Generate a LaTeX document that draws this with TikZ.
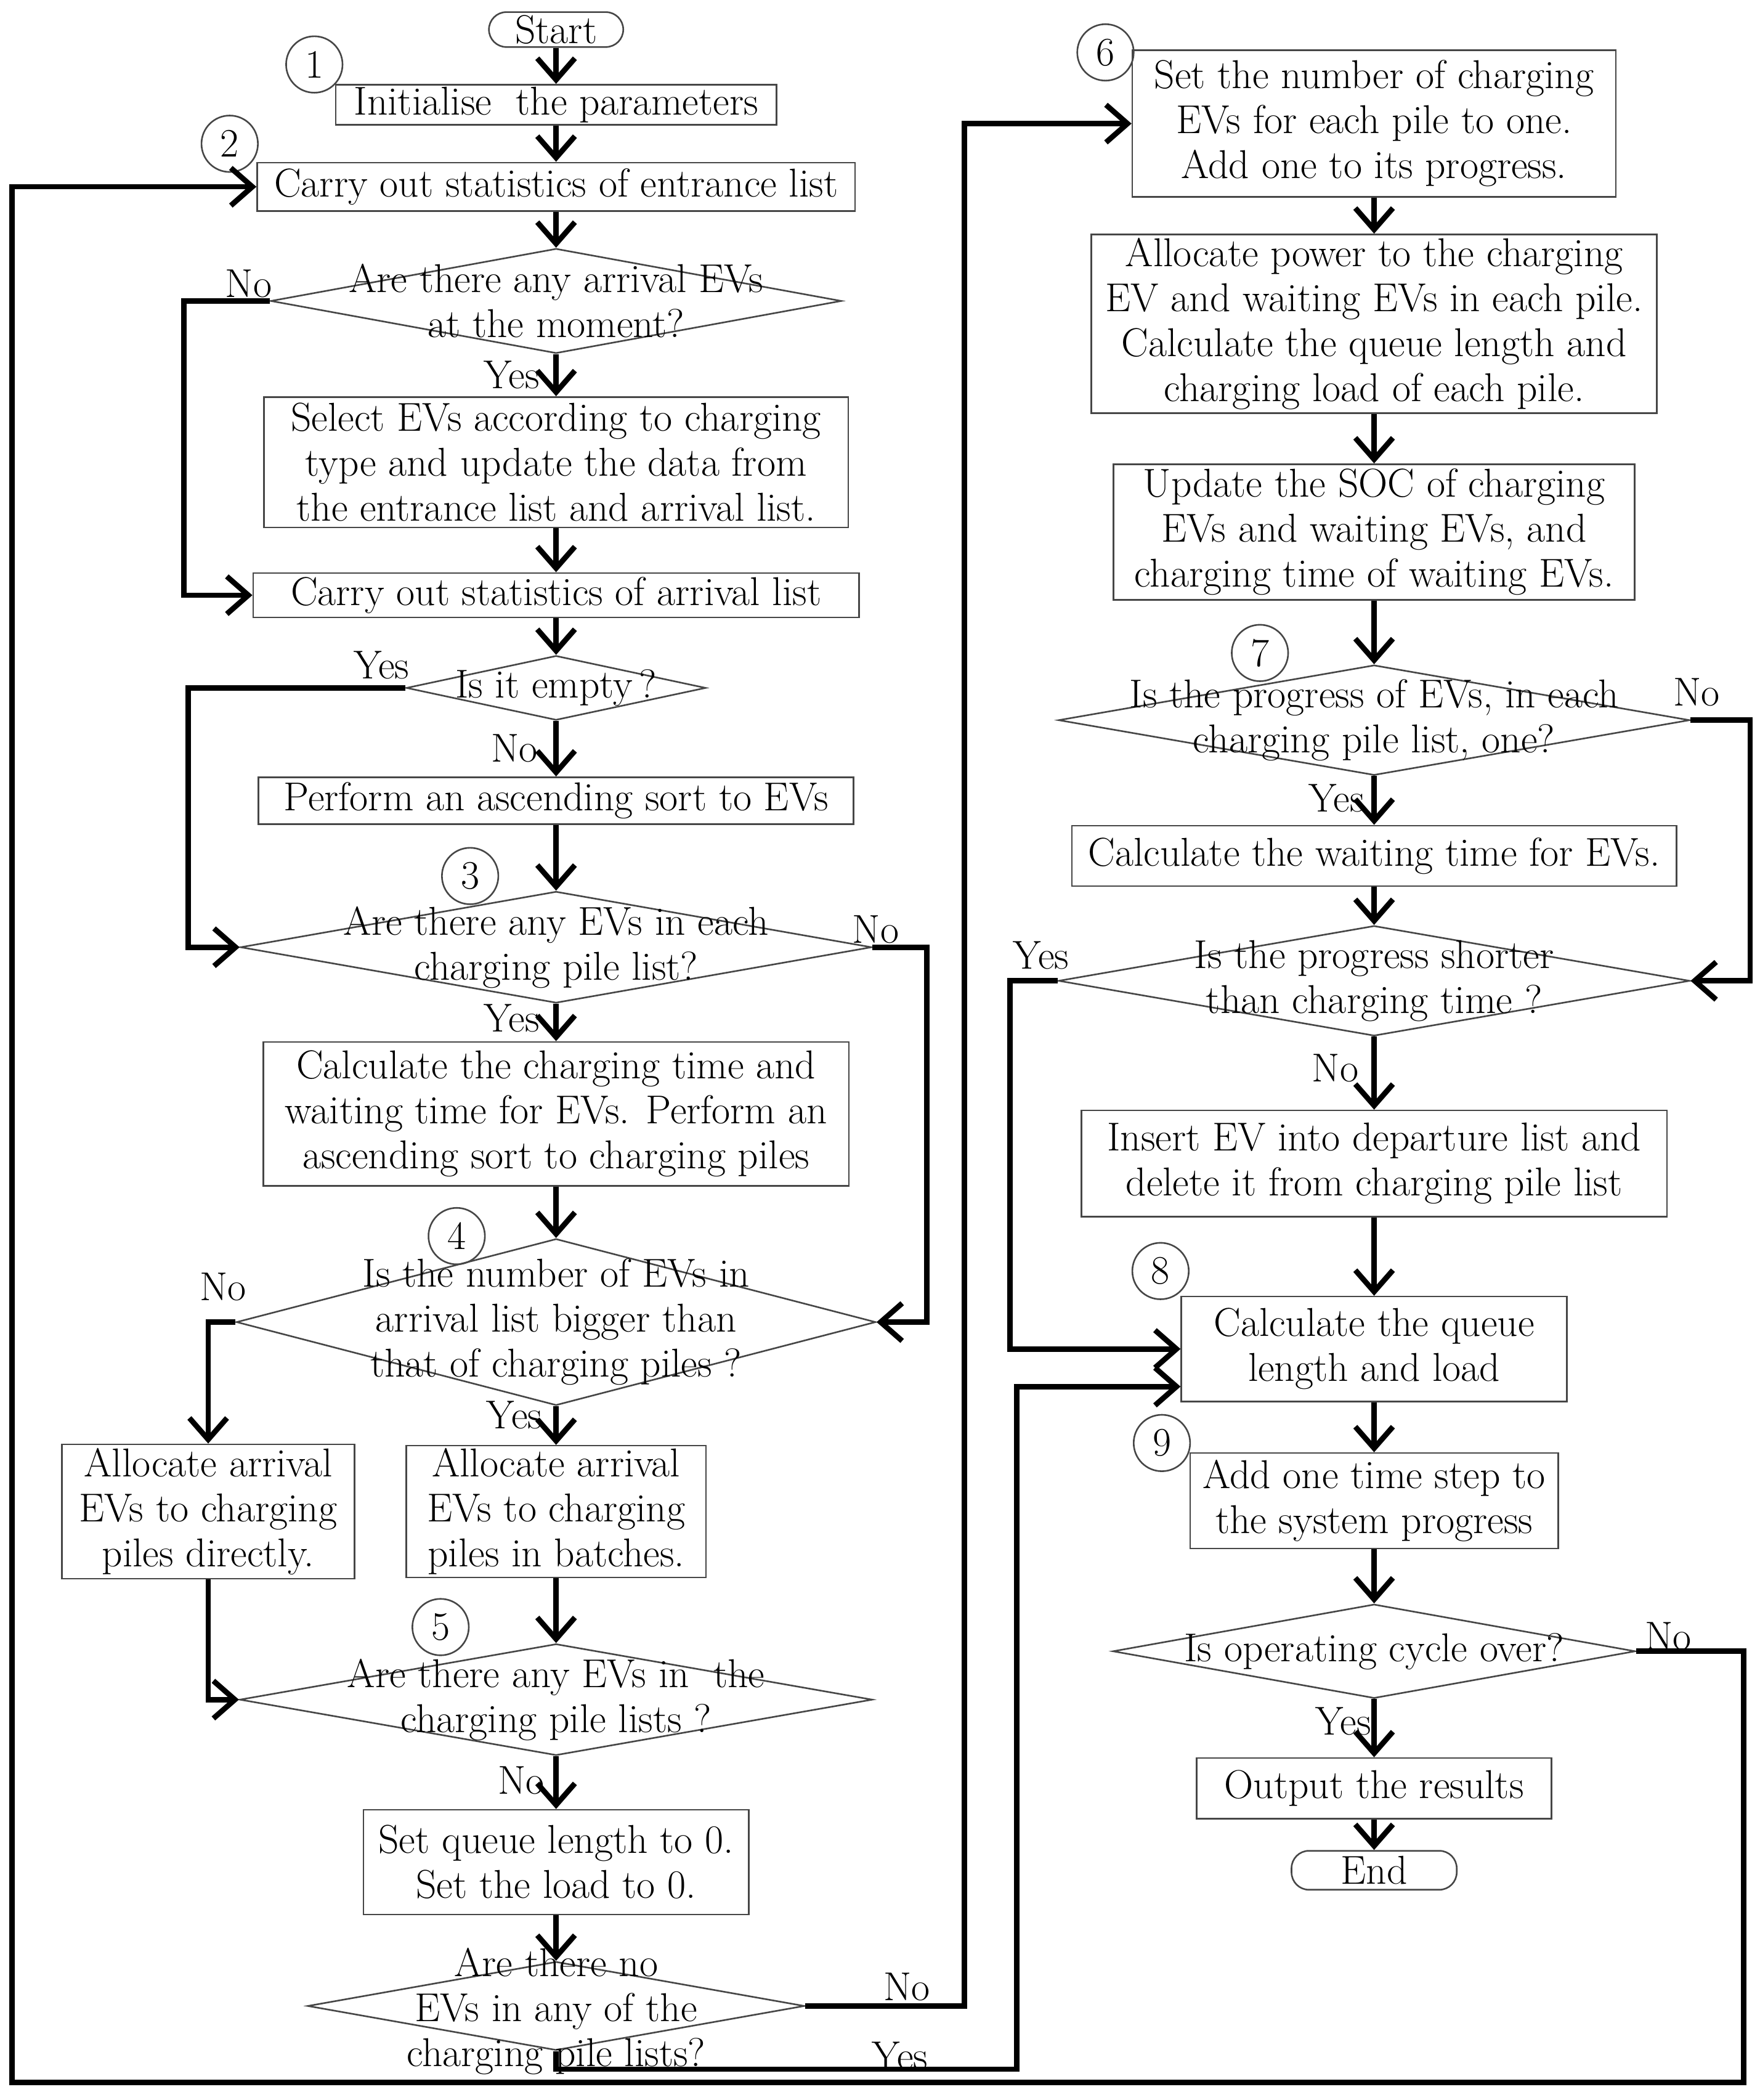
\documentclass[tikz,border=0pt]{standalone}
\usetikzlibrary{shapes.geometric,arrows.meta,calc}
\newcommand\fzx{\fontsize{30}{33.5}\selectfont}
\definecolor{bordergray}{RGB}{70,70,70}
\begin{document}
\begin{tikzpicture}[x=1pt,y=-1pt,
  box/.style={draw=bordergray, line width=1.2pt, rectangle, align=center, inner sep=0pt, font=\fzx},
  term/.style={box, rounded corners=13pt},
  dia/.style={draw=bordergray, line width=1.2pt, diamond, inner sep=0pt},
  dtxt/.style={align=center, inner sep=0pt, font=\fzx},
  num/.style={draw=bordergray, line width=1.2pt, circle, minimum size=42pt, inner sep=0pt, font=\fzx},
  lbl/.style={inner sep=0pt, font=\fzx},
  arr/.style={line width=4pt, -{Straight Barb[length=16pt,width=28pt]}}]
\useasboundingbox (0,0) rectangle (1310,1563);
% ---------- left column ----------
\node[term, minimum width=100pt, minimum height=26pt] (start) at (414,22) {Start};
\node[box, minimum width=328pt, minimum height=30pt] (init) at (414,78) {Initialise~ the parameters};
\node[box, minimum width=445pt, minimum height=36pt] (stat1) at (414,139) {Carry out statistics of entrance list};
\node[dia, minimum width=425pt, minimum height=78pt] (d1) at (414,224) {};
\node[dtxt] (d1t) at (d1.center) {Are there any arrival EVs\\at the moment?};
\node[box, minimum width=435pt, minimum height=97pt] (sel) at (414,344) {Select EVs according to charging\\type and update the data from\\the entrance list and arrival list.};
\node[box, minimum width=451pt, minimum height=33pt] (stat2) at (414,443) {Carry out statistics of arrival list};
\node[dia, minimum width=223pt, minimum height=48pt] (d2) at (414,512) {};
\node[dtxt] (d2t) at (d2.center) {Is it empty\,?};
\node[box, minimum width=443pt, minimum height=35pt] (sort) at (414,596) {Perform an ascending sort to EVs};
\node[dia, minimum width=470pt, minimum height=83pt] (d3) at (414,705) {};
\node[dtxt] (d3t) at (d3.center) {Are there any EVs in each\\charging pile list?};
\node[box, minimum width=436pt, minimum height=107pt] (calc) at (414,829) {Calculate the charging time and\\waiting time for EVs. Perform an\\ascending sort to charging piles};
\node[dia, minimum width=476pt, minimum height=124pt] (d4) at (414,984) {};
\node[dtxt] (d4t) at (d4.center) {Is the number of EVs in\\arrival list bigger than\\that of charging piles ?};
\node[box, minimum width=218pt, minimum height=100pt] (dd) at (155,1125) {Allocate arrival\\EVs to charging\\piles directly.};
\node[box, minimum width=223pt, minimum height=98pt] (bat) at (414,1125) {Allocate arrival\\EVs to charging\\piles in batches.};
\node[dia, minimum width=471pt, minimum height=83pt] (d5) at (414,1265) {};
\node[dtxt] (d5t) at (d5.center) {Are there any EVs in~ the\\charging pile lists ?};
\node[box, minimum width=287pt, minimum height=78pt] (setq) at (414,1386) {Set queue length to 0.\\Set the load to 0.};
\node[dia, minimum width=370pt, minimum height=66pt] (d6) at (414,1493) {};
\node[dtxt] (d6t) at (414,1497) {Are there no\\EVs in any of the\\charging pile lists?};
% ---------- right column ----------
\node[box, minimum width=360pt, minimum height=109pt] (b6) at (1023,92) {Set the number of charging\\EVs for each pile to one.\\Add one to its progress.};
\node[box, minimum width=421pt, minimum height=133pt] (b7) at (1023,241) {Allocate power to the charging\\EV and waiting EVs in each pile.\\Calculate the queue length and\\charging load of each pile.};
\node[box, minimum width=388pt, minimum height=101pt] (b8) at (1023,396) {Update the SOC of charging\\EVs and waiting EVs, and\\charging time of waiting EVs.};
\node[dia, minimum width=470pt, minimum height=82pt] (d7) at (1023,536) {};
\node[dtxt] (d7t) at (d7.center) {Is the progress of EVs, in each\\charging pile list, one?};
\node[box, minimum width=450pt, minimum height=45pt] (wt) at (1023,637) {Calculate the waiting time for EVs.};
\node[dia, minimum width=470pt, minimum height=82pt] (d8) at (1023,730) {};
\node[dtxt] (d8t) at (d8.center) {Is the progress shorter\\than charging time ?};
\node[box, minimum width=436pt, minimum height=79pt] (ins) at (1023,866) {Insert EV into departure list and\\delete it from charging pile list};
\node[box, minimum width=287pt, minimum height=78pt] (cq) at (1023,1004) {Calculate the queue\\length and load};
\node[box, minimum width=274pt, minimum height=71pt] (step) at (1023,1117) {Add one time step to\\the system progress};
\node[dia, minimum width=389pt, minimum height=70pt] (d9) at (1023,1229) {};
\node[dtxt] (d9t) at (d9.center) {Is operating cycle over?};
\node[box, minimum width=264pt, minimum height=45pt] (out) at (1023,1331) {Output the results};
\node[term, minimum width=123pt, minimum height=29pt] (end) at (1023,1392) {End};
% ---------- numbered circles ----------
\node[num] (c1) at (234,48) {1};
\node[num] (c2) at (171,107) {2};
\node[num] (c3) at (350,652) {3};
\node[num] (c4) at (340,920) {4};
\node[num] (c5) at (328,1211) {5};
\node[num] (c6) at (823,39) {6};
\node[num] (c7) at (938,486) {7};
\node[num] (c8) at (864,946) {8};
\node[num] (c9) at (865,1074) {9};
% ---------- labels ----------
\node[lbl] (l1n) at (185,211) {No};
\node[lbl] (l1y) at (381,279) {Yes};
\node[lbl] (l2y) at (284,495) {Yes};
\node[lbl] (l2n) at (383,557) {No};
\node[lbl] (l3n) at (652,692) {No};
\node[lbl] (l3y) at (381,758) {Yes};
\node[lbl] (l4n) at (166,958) {No};
\node[lbl] (l4y) at (383,1053) {Yes};
\node[lbl] (l5n) at (388,1325) {No};
\node[lbl] (l6n) at (675,1479) {No};
\node[lbl] (l6y) at (670,1530) {Yes};
\node[lbl] (l7n) at (1263,515) {No};
\node[lbl] (l7y) at (995,594) {Yes};
\node[lbl] (l8y) at (775,711) {Yes};
\node[lbl] (l8n) at (994,795) {No};
\node[lbl] (l9n) at (1242,1218) {No};
\node[lbl] (l9y) at (1000,1281) {Yes};
% ---------- connectors ----------
\draw[arr] (start) -- (init);
\draw[arr] (init) -- (stat1);
\draw[arr] (stat1) -- (d1.north);
\draw[arr] (d1.south) -- (sel);
\draw[arr] (d1.west) -- (137,224) |- (stat2.west);
\draw[arr] (sel) -- (stat2);
\draw[arr] (stat2) -- (d2.north);
\draw[arr] (d2.west) -- (140,512) |- (d3.west);
\draw[arr] (d2.south) -- (sort);
\draw[arr] (sort) -- (d3.north);
\draw[arr] (d3.east) -- (690,705) |- (d4.east);
\draw[arr] (d3.south) -- (calc);
\draw[arr] (calc) -- (d4.north);
\draw[arr] (d4.west) -| (dd.north);
\draw[arr] (d4.south) -- (bat);
\draw[arr] (dd.south) |- (d5.west);
\draw[arr] (bat) -- (d5.north);
\draw[arr] (d5.south) -- (setq);
\draw[arr] (setq) -- (d6.north);
\draw[arr] (d6.east) -- (718,1493) |- (b6.west);
\draw[arr] (d6.south) -- (414,1540) -- (757,1540) |- ([yshift=-28pt]cq.west);
\draw[arr] (b6) -- (b7);
\draw[arr] (b7) -- (b8);
\draw[arr] (b8) -- (d7.north);
\draw[arr] (d7.east) -- (1303,536) |- (d8.east);
\draw[arr] (d7.south) -- (wt);
\draw[arr] (wt) -- (d8.north);
\draw[arr] (d8.west) -- (752,730) |- (cq.west);
\draw[arr] (d8.south) -- (ins);
\draw[arr] (ins) -- (cq);
\draw[arr] (cq) -- (step);
\draw[arr] (step) -- (d9.north);
\draw[arr] (d9.east) -- (1298,1229) -- (1298,1550) -- (9,1550) |- (stat1.west);
\draw[arr] (d9.south) -- (out);
\draw[arr] (out) -- (end);
\end{tikzpicture}
\end{document}
